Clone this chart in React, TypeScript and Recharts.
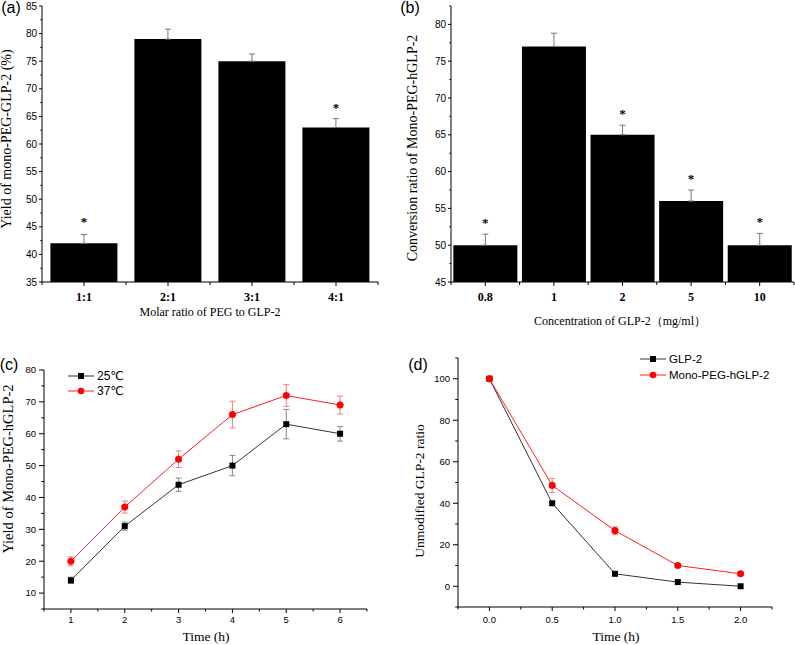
import React from 'react';
import { ComposedChart, Bar, XAxis, YAxis, ErrorBar, Scatter, LineChart, Line } from 'recharts';

const SERIF = "'Liberation Serif', 'Times New Roman', 'DejaVu Serif', serif";
const SANS = "'Liberation Sans', Arial, 'DejaVu Sans', sans-serif";

// (a) molar ratio
const ratioCategories = ['1:1', '2:1', '3:1', '4:1'];
const ratioYield = [42, 79, 75, 63];
const ratioError = [1.6, 1.8, 1.3, 1.6];
const ratioStar: (number | null)[] = [46.3, null, null, 66.8];
const ratioYMajor = [35, 40, 45, 50, 55, 60, 65, 70, 75, 80, 85];
const ratioYMinor = [37.5, 42.5, 47.5, 52.5, 57.5, 62.5, 67.5, 72.5, 77.5, 82.5];

// (b) concentration
const concCategories = ['0.8', '1', '2', '5', '10'];
const concRatio = [50, 77, 65, 56, 50];
const concError = [1.5, 1.8, 1.3, 1.5, 1.6];
const concStar: (number | null)[] = [53.3, null, 68.1, 59.3, 53.4];
const concYMajor = [45, 50, 55, 60, 65, 70, 75, 80];
const concYMinor = [47.5, 52.5, 57.5, 62.5, 67.5, 72.5, 77.5, 82.5];

// (c) temperature
const tempTime = [1, 2, 3, 4, 5, 6];
const yield25 = [14, 31, 44, 50, 63, 60];
const yield25Err = [1.0, 1.3, 2.1, 3.2, 4.6, 2.3];
const yield37 = [20, 37, 52, 66, 72, 69];
const yield37Err = [1.4, 1.9, 2.6, 4.2, 3.4, 2.8];
const tempXMajor = [1, 2, 3, 4, 5, 6];
const tempXMinor = [0.5, 1.5, 2.5, 3.5, 4.5, 5.5, 6.5];
const tempYMajor = [10, 20, 30, 40, 50, 60, 70, 80];
const tempYMinor = [5, 15, 25, 35, 45, 55, 65, 75];

// (d) stability
const stabTime = [0, 0.5, 1.0, 1.5, 2.0];
const glp2Ratio = [100, 40, 6, 2, 0];
const pegRatio = [100, 48.6, 26.8, 10, 6];
const pegErr = [0.8, 3.4, 1.8, 0.8, 0.8];
const stabXMajor = [0, 0.5, 1.0, 1.5, 2.0];
const stabXMinor = [-0.25, 0.25, 0.75, 1.25, 1.75, 2.25];
const stabYMajor = [0, 20, 40, 60, 80, 100];
const stabYMinor = [-10, 10, 30, 50, 70, 90, 110];

const ratioData = ratioCategories.map((cat, i) => ({ cat, value: ratioYield[i], err: [0, ratioError[i]], star: ratioStar[i] }));
const concData = concCategories.map((cat, i) => ({ cat, value: concRatio[i], err: [0, concError[i]], star: concStar[i] }));
const tempData = tempTime.map((t, i) => ({ t, a: yield25[i], ae: yield25Err[i], b: yield37[i], be: yield37Err[i] }));
const stabData = stabTime.map((t, i) => ({ t, a: glp2Ratio[i], b: pegRatio[i], be: pegErr[i] }));

const isIn = (arr: number[], v: number) => arr.some((m) => Math.abs(m - v) < 1e-9);

function YTick(props: any) {
  const { x, y, payload, majors, len, gap, font, fmt } = props;
  const v = payload.value;
  const major = isIn(majors, v);
  return (
    <g>
      <line x1={x} x2={x - (major ? len : len * 0.55)} y1={y} y2={y} stroke="#000" strokeWidth={1} />
      {major && (
        <text x={x - gap} y={y} dy="0.36em" textAnchor="end" fontFamily={SANS} fontSize={font} fill="#000">
          {fmt ? fmt(v) : v}
        </text>
      )}
    </g>
  );
}

function CatXTick(props: any) {
  const { x, y, payload, index, band, count } = props;
  return (
    <g>
      <line x1={x} x2={x} y1={y} y2={y + 4} stroke="#000" strokeWidth={1} />
      <line x1={x - band / 2} x2={x - band / 2} y1={y} y2={y + 3} stroke="#000" strokeWidth={1} />
      {index === count - 1 && <line x1={x + band / 2} x2={x + band / 2} y1={y} y2={y + 3} stroke="#000" strokeWidth={1} />}
      <text x={x} y={y + 19} textAnchor="middle" fontFamily={SERIF} fontWeight="bold" fontSize={12} fill="#000">
        {payload.value}
      </text>
    </g>
  );
}

function NumXTick(props: any) {
  const { x, y, payload, majors, fmt, dy } = props;
  const v = payload.value;
  const major = isIn(majors, v);
  return (
    <g>
      <line x1={x} x2={x} y1={y} y2={y + (major ? 4 : 2.5)} stroke="#000" strokeWidth={1} />
      {major && (
        <text x={x} y={y + dy} textAnchor="middle" fontFamily={SANS} fontSize={9.5} fill="#000">
          {fmt ? fmt(v) : v}
        </text>
      )}
    </g>
  );
}

function StarShape(props: any) {
  const { cx, cy, payload } = props;
  if (payload == null || payload.star == null || !isFinite(cy)) return <g />;
  return (
    <text x={cx} y={cy + 6} textAnchor="middle" fontFamily={SERIF} fontWeight="bold" fontSize={13} fill="#000">
      *
    </text>
  );
}

function SquareDot(props: any) {
  const { cx, cy, index } = props;
  if (cx == null || cy == null) return <g key={`s${index}`} />;
  return <rect key={`s${index}`} x={cx - 3} y={cy - 3} width={6} height={6} fill="#000" />;
}

function CircleDot(props: any) {
  const { cx, cy, index } = props;
  if (cx == null || cy == null) return <g key={`c${index}`} />;
  return <circle key={`c${index}`} cx={cx} cy={cy} r={3.3} fill="#ff0000" stroke="#e00000" strokeWidth={0.5} />;
}

const abs = (left: number, top: number, w: number, h: number): React.CSSProperties => ({ position: 'absolute', left, top, width: w, height: h });

function Title({ text, cx, cy, size, rotate, family }: { text: string; cx: number; cy: number; size: number; rotate?: boolean; family?: string }) {
  return (
    <div
      style={{
        position: 'absolute',
        left: cx,
        top: cy,
        transform: `translate(-50%, -50%)${rotate ? ' rotate(-90deg)' : ''}`,
        fontFamily: family || SERIF,
        fontSize: size,
        lineHeight: 1,
        whiteSpace: 'nowrap',
        color: '#000',
      }}
    >
      {text}
    </div>
  );
}

function LegendRow({ left, top, color, square, label, size }: { left: number; top: number; color: string; square: boolean; label: string; size: number }) {
  return (
    <div style={{ position: 'absolute', left, top: top - 8, height: 16, display: 'flex', alignItems: 'center', fontFamily: SANS, fontSize: size, color: '#000', whiteSpace: 'nowrap' }}>
      <svg width={26} height={16} style={{ display: 'block' }}>
        <line x1={0} x2={26} y1={8} y2={8} stroke={color} strokeWidth={1} />
        {square ? <rect x={10} y={5} width={6} height={6} fill="#000" /> : <circle cx={13} cy={8} r={3.3} fill="#ff0000" />}
      </svg>
      <span style={{ marginLeft: 3 }}>{label}</span>
    </div>
  );
}

export default function App() {
  return (
    <div style={{ position: 'absolute', left: 0, top: 0, width: 795, height: 645, background: '#fff', overflow: 'hidden' }}>
      {/* (a) */}
      <div style={abs(0, 0, 400, 330)}>
        <ComposedChart width={400} height={330} data={ratioData} margin={{ top: 6, right: 22, bottom: 0, left: 0 }} barCategoryGap="10%">
          <XAxis
            dataKey="cat"
            type="category"
            height={48}
            axisLine={{ stroke: '#000' }}
            tickLine={false}
            tickSize={0}
            tickMargin={0}
            interval={0}
            tick={(p: any) => <CatXTick {...p} band={84} count={ratioCategories.length} />}
          />
          <YAxis
            type="number"
            domain={[35, 85]}
            ticks={[...ratioYMajor, ...ratioYMinor]}
            width={42}
            interval={0}
            axisLine={{ stroke: '#000' }}
            tickLine={false}
            tickSize={0}
            tickMargin={0}
            allowDataOverflow
            tick={(p: any) => <YTick {...p} majors={ratioYMajor} len={3} gap={5} font={10} />}
          />
          <Bar dataKey="value" fill="#000" isAnimationActive={false}>
            <ErrorBar dataKey="err" width={3} stroke="#777" strokeWidth={1} direction="y" />
          </Bar>
          <Scatter dataKey="star" isAnimationActive={false} shape={StarShape} />
        </ComposedChart>
      </div>

      {/* (b) */}
      <div style={abs(400, 0, 395, 330)}>
        <ComposedChart width={395} height={330} data={concData} margin={{ top: 6, right: 1, bottom: 0, left: 0 }} barCategoryGap="3.4%">
          <XAxis
            dataKey="cat"
            type="category"
            height={48}
            axisLine={{ stroke: '#000' }}
            tickLine={false}
            tickSize={0}
            tickMargin={0}
            interval={0}
            tick={(p: any) => <CatXTick {...p} band={68.6} count={concCategories.length} />}
          />
          <YAxis
            type="number"
            domain={[45, 82.5]}
            ticks={[...concYMajor, ...concYMinor]}
            width={51}
            interval={0}
            axisLine={{ stroke: '#000' }}
            tickLine={false}
            tickSize={0}
            tickMargin={0}
            allowDataOverflow
            tick={(p: any) => <YTick {...p} majors={concYMajor} len={3} gap={5} font={10} />}
          />
          <Bar dataKey="value" fill="#000" isAnimationActive={false}>
            <ErrorBar dataKey="err" width={3} stroke="#777" strokeWidth={1} direction="y" />
          </Bar>
          <Scatter dataKey="star" isAnimationActive={false} shape={StarShape} />
        </ComposedChart>
      </div>

      {/* (c) */}
      <div style={abs(0, 330, 400, 315)}>
        <LineChart width={400} height={315} data={tempData} margin={{ top: 40, right: 33, bottom: 0, left: 0 }}>
          <XAxis
            dataKey="t"
            type="number"
            domain={[0.5, 6.5]}
            ticks={[...tempXMajor, ...tempXMinor]}
            height={36}
            interval={0}
            axisLine={{ stroke: '#000' }}
            tickLine={false}
            tickSize={0}
            tickMargin={0}
            allowDataOverflow
            tick={(p: any) => <NumXTick {...p} majors={tempXMajor} dy={14} />}
          />
          <YAxis
            type="number"
            domain={[5, 80]}
            ticks={[...tempYMajor, ...tempYMinor]}
            width={44}
            interval={0}
            axisLine={{ stroke: '#000' }}
            tickLine={false}
            tickSize={0}
            tickMargin={0}
            allowDataOverflow
            tick={(p: any) => <YTick {...p} majors={tempYMajor} len={5} gap={8} font={9.5} />}
          />
          <Line dataKey="a" stroke="#333" strokeWidth={1} isAnimationActive={false} dot={SquareDot} activeDot={false}>
            <ErrorBar dataKey="ae" width={3} stroke="#888" strokeWidth={1} direction="y" />
          </Line>
          <Line dataKey="b" stroke="#ff2020" strokeWidth={1} isAnimationActive={false} dot={CircleDot} activeDot={false}>
            <ErrorBar dataKey="be" width={3} stroke="#f08080" strokeWidth={1} direction="y" />
          </Line>
        </LineChart>
      </div>

      {/* (d) */}
      <div style={abs(400, 330, 395, 315)}>
        <LineChart width={395} height={315} data={stabData} margin={{ top: 28, right: 23, bottom: 0, left: 0 }}>
          <XAxis
            dataKey="t"
            type="number"
            domain={[-0.25, 2.25]}
            ticks={[...stabXMajor, ...stabXMinor]}
            height={38}
            interval={0}
            axisLine={{ stroke: '#000' }}
            tickLine={false}
            tickSize={0}
            tickMargin={0}
            allowDataOverflow
            tick={(p: any) => <NumXTick {...p} majors={stabXMajor} dy={16} fmt={(v: number) => v.toFixed(1)} />}
          />
          <YAxis
            type="number"
            domain={[-10, 110]}
            ticks={[...stabYMajor, ...stabYMinor]}
            width={58}
            interval={0}
            axisLine={{ stroke: '#000' }}
            tickLine={false}
            tickSize={0}
            tickMargin={0}
            allowDataOverflow
            tick={(p: any) => <YTick {...p} majors={stabYMajor} len={5} gap={8} font={9.5} />}
          />
          <Line dataKey="a" stroke="#333" strokeWidth={1} isAnimationActive={false} dot={SquareDot} activeDot={false} />
          <Line dataKey="b" stroke="#ff2020" strokeWidth={1} isAnimationActive={false} dot={CircleDot} activeDot={false}>
            <ErrorBar dataKey="be" width={3} stroke="#f08080" strokeWidth={1} direction="y" />
          </Line>
        </LineChart>
      </div>

      {/* panel letters */}
      <Title text="(a)" cx={11} cy={8} size={16} family={SANS} />
      <Title text="(b)" cx={410} cy={8} size={16} family={SANS} />
      <Title text="(c)" cx={9} cy={365} size={16} family={SANS} />
      <Title text="(d)" cx={418} cy={365} size={16} family={SANS} />

      {/* axis titles */}
      <Title text="Molar ratio of PEG to GLP-2" cx={210} cy={312} size={12} />
      <Title text="Yield of mono-PEG-GLP-2 (%)" cx={7} cy={139} size={14} rotate />
      <Title text="Concentration of GLP-2（mg/ml）" cx={620} cy={321} size={12} />
      <Title text="Conversion ratio of Mono-PEG-hGLP-2" cx={413} cy={148} size={14} rotate />
      <Title text="Time (h)" cx={206} cy={637} size={13.5} />
      <Title text="Yield of Mono-PEG-hGLP-2" cx={8} cy={469} size={14.5} rotate />
      <Title text="Time (h)" cx={616} cy={637} size={13.5} />
      <Title text="Unmodified GLP-2 ratio" cx={420} cy={491} size={13.5} rotate />

      {/* legends */}
      <LegendRow left={68} top={376} color="#333" square label="25℃" size={12} />
      <LegendRow left={68} top={391} color="#ff2020" square={false} label="37℃" size={12} />
      <LegendRow left={640} top={359} color="#333" square label="GLP-2" size={11.5} />
      <LegendRow left={640} top={375} color="#ff2020" square={false} label="Mono-PEG-hGLP-2" size={11.5} />
    </div>
  );
}
